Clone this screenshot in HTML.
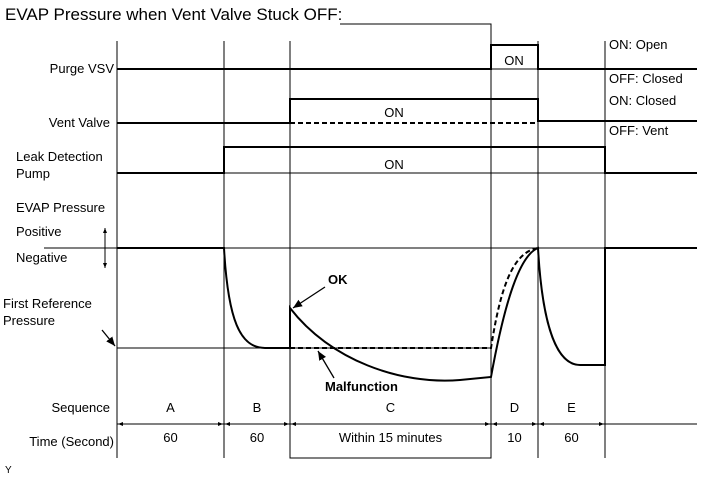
<!DOCTYPE html>
<html><head><meta charset="utf-8"><style>
body{margin:0;background:#fff}
svg{display:block;font-family:"Liberation Sans",sans-serif}
</style></head><body>
<svg width="711" height="479" viewBox="0 0 711 479">
<defs>
<marker id="ah" markerWidth="8" markerHeight="8" refX="7" refY="4" orient="auto-start-reverse"><path d="M0,1 L7,4 L0,7 z" fill="#000"/></marker>
<marker id="sh" markerWidth="6" markerHeight="6" refX="5" refY="3" orient="auto-start-reverse"><path d="M0,1 L5,3 L0,5 z" fill="#000"/></marker>
</defs>
<text x="5" y="20" font-size="17">EVAP Pressure when Vent Valve Stuck OFF:</text>
<polyline points="340,24 491,24 491,458 290,458 290,410" fill="none" stroke="#000" stroke-width="1"/>
<g id="grid" stroke="#000" stroke-width="1"></g>
<g id="sig" fill="none" stroke="#000" stroke-width="2"></g>
<g font-size="13" id="labels">
<text x="114" y="73" text-anchor="end">Purge VSV</text>
<text x="110" y="127" text-anchor="end">Vent Valve</text>
<text x="16" y="161">Leak Detection</text>
<text x="16" y="178">Pump</text>
<text x="16" y="212">EVAP Pressure</text>
<text x="16" y="236">Positive</text>
<text x="16" y="262">Negative</text>
<text x="3" y="308">First Reference</text>
<text x="3" y="325">Pressure</text>
<text x="609" y="49">ON: Open</text>
<text x="609" y="83">OFF: Closed</text>
<text x="609" y="105">ON: Closed</text>
<text x="609" y="135">OFF: Vent</text>
<text x="514" y="65" text-anchor="middle">ON</text>
<text x="394" y="117" text-anchor="middle">ON</text>
<text x="394" y="169" text-anchor="middle">ON</text>
<text x="328" y="284" font-weight="bold">OK</text>
<text x="325" y="391" font-weight="bold">Malfunction</text>
<text x="110" y="412" text-anchor="end">Sequence</text>
<text x="114" y="446" text-anchor="end">Time (Second)</text>
<text x="5" y="473" font-size="10">Y</text>
</g>
<g id="rows" font-size="13" text-anchor="middle"></g>
<line x1="105" y1="228" x2="105" y2="268" stroke="#000" marker-start="url(#sh)" marker-end="url(#sh)"/>
<line x1="102" y1="330" x2="115" y2="346" stroke="#000" stroke-width="1.3" marker-end="url(#ah)"/>
<line x1="325" y1="287" x2="293" y2="308" stroke="#000" stroke-width="1.3" marker-end="url(#ah)"/>
<line x1="334" y1="378" x2="318" y2="351" stroke="#000" stroke-width="1.3" marker-end="url(#ah)"/>
</svg>
<script>
const bounds=[117,224,290,491,538,605];
const seqNames=["A","B","C","D","E"];
const times=["60","60","Within 15 minutes","10","60"];
const NS="http://www.w3.org/2000/svg";
function mk(tag,attrs,parent){const e=document.createElementNS(NS,tag);for(const k in attrs)e.setAttribute(k,attrs[k]);parent.appendChild(e);return e;}
const grid=document.getElementById('grid');
bounds.forEach(x=>{const l=mk('line',{x1:x,y1:41,x2:x,y2:458},grid);

});
[[44,248,697,248],[117,348,491,348],[491,69,538,69],[224,173,605,173],[117,424,697,424]].forEach(a=>{const l=mk('line',{x1:a[0],y1:a[1],x2:a[2],y2:a[3]},grid);

});
const rows=document.getElementById('rows');
for(let i=0;i<5;i++){const cx=(bounds[i]+bounds[i+1])/2;
const t=mk('text',{x:cx,y:412},rows);t.textContent=seqNames[i];


const u=mk('text',{x:cx,y:442},rows);u.textContent=times[i];


const a=mk('line',{x1:bounds[i]+1,y1:424,x2:bounds[i+1]-1,y2:424,stroke:'#000','marker-start':'url(#sh)','marker-end':'url(#sh)'},rows);

}
const sig=document.getElementById('sig');
const paths=[
["purge-vsv-signal","M117,69 H491 V45 H538 V69 H697"],
["vent-valve-signal","M117,123 H290 V99 H538 V121 H697"],
["leak-pump-signal","M117,173 H224 V147 H605 V173 H697"],
["pressure-ok","M117,248 H224 C228,320 240,348 265,348 H290 V308 C330,360 400,385 460,380 L491,377 C505,300 520,255 538,248 C542,320 555,365 580,365 H605 V248 H697"]];
paths.forEach(p=>{const e=mk('path',{d:p[1]},sig);

});
const d1=mk('path',{d:"M290,123 H538",'stroke-dasharray':'5,3'},sig);


const d2=mk('path',{d:"M290,348 H491 C500,290 512,252 538,248",'stroke-dasharray':'5,3'},sig);


</script>
</body></html>
